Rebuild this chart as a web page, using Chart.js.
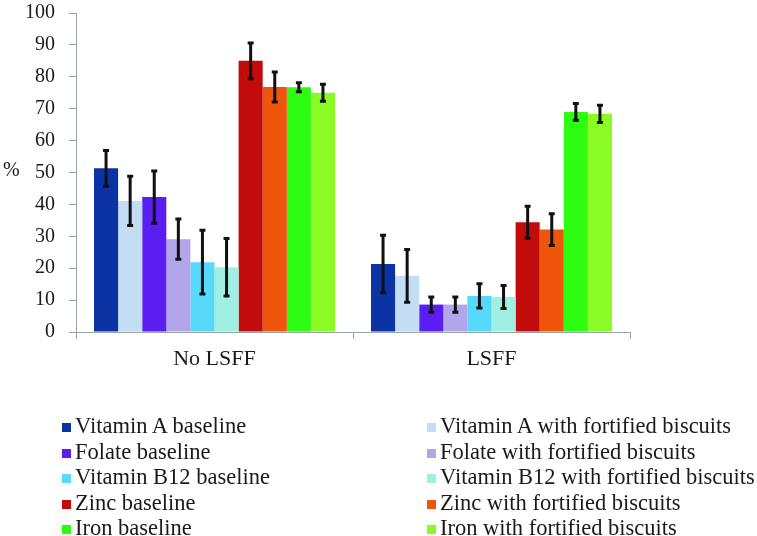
<!DOCTYPE html>
<html>
<head>
<meta charset="utf-8">
<script src="https://cdn.jsdelivr.net/npm/chart.js@4/dist/chart.umd.min.js"></script>
<style>
  html, body { margin: 0; padding: 0; background: #ffffff; }
  #wrap { position: relative; width: 757px; height: 536px; overflow: hidden; font-family: "Liberation Serif", "Times New Roman", serif; color: #1a1a1a; }
  #chart { position: absolute; left: 0; top: 0; }
  #ylab { position: absolute; left: 3px; top: 157px; font-size: 20px; line-height: 24px; }
  .lg { position: absolute; font-size: 22.5px; line-height: 25px; white-space: nowrap; }
  .lg .sw { display: inline-block; width: 9px; height: 9px; margin-right: 4px; vertical-align: 1px; }
</style>
</head>
<body>
<div id="wrap">
  <canvas id="chart" width="757" height="536"></canvas>
  <div id="ylab">%</div>
  <div id="legend"></div>
</div>
<script>
// ---- data ----
const categories = ['No LSFF', 'LSFF'];
const seriesNames = [
  'Vitamin A baseline', 'Vitamin A with fortified biscuits',
  'Folate baseline', 'Folate with fortified biscuits',
  'Vitamin B12 baseline', 'Vitamin B12 with fortified biscuits',
  'Zinc baseline', 'Zinc with fortified biscuits',
  'Iron baseline', 'Iron with fortified biscuits'
];
const vitaminABaseline   = [51.3, 21.3];
const vitaminAFortified  = [41.1, 17.6];
const folateBaseline     = [42.3, 8.6];
const folateFortified    = [29.1, 8.6];
const vitaminB12Baseline = [21.9, 11.3];
const vitaminB12Fortified= [20.3, 11.0];
const zincBaseline       = [85.0, 34.4];
const zincFortified      = [76.8, 32.1];
const ironBaseline       = [76.7, 69.0];
const ironFortified      = [75.0, 68.4];

const vitaminABaselineErr   = [5.6, 9.0];
const vitaminAFortifiedErr  = [7.7, 8.3];
const folateBaselineErr     = [8.2, 2.4];
const folateFortifiedErr    = [6.3, 2.4];
const vitaminB12BaselineErr = [10.0, 3.8];
const vitaminB12FortifiedErr= [9.0, 3.6];
const zincBaselineErr       = [5.6, 5.0];
const zincFortifiedErr      = [4.7, 5.0];
const ironBaselineErr       = [1.4, 2.6];
const ironFortifiedErr      = [2.7, 2.7];

const yTicks = [0, 10, 20, 30, 40, 50, 60, 70, 80, 90, 100];

const seriesValues = [vitaminABaseline, vitaminAFortified, folateBaseline, folateFortified,
  vitaminB12Baseline, vitaminB12Fortified, zincBaseline, zincFortified, ironBaseline, ironFortified];
const seriesErrors = [vitaminABaselineErr, vitaminAFortifiedErr, folateBaselineErr, folateFortifiedErr,
  vitaminB12BaselineErr, vitaminB12FortifiedErr, zincBaselineErr, zincFortifiedErr, ironBaselineErr, ironFortifiedErr];
const seriesColors = ['#0b33a3', '#c3ddf5', '#5b1ef2', '#b2a5ec', '#57d9fc',
  '#a0efe3', '#c20b0b', '#ef560b', '#2dfd12', '#8bfb25'];

// ---- chart ----
const AXIS = '#9aa5a5';
const FONT = '"Liberation Serif", "Times New Roman", serif';

const errorBars = {
  id: 'errorBars',
  afterDatasetsDraw(chart) {
    const ctx = chart.ctx;
    const ys = chart.scales.y;
    ctx.save();
    ctx.strokeStyle = '#111111';
    ctx.lineWidth = 3;
    chart.data.datasets.forEach((ds, i) => {
      const meta = chart.getDatasetMeta(i);
      meta.data.forEach((bar, j) => {
        const v = ds.data[j], e = seriesErrors[i][j];
        const yt = ys.getPixelForValue(v + e);
        const yb = ys.getPixelForValue(v - e);
        const x = bar.x;
        ctx.beginPath();
        ctx.moveTo(x, yt); ctx.lineTo(x, yb);
        ctx.moveTo(x - 3, yt); ctx.lineTo(x + 3, yt);
        ctx.moveTo(x - 3, yb); ctx.lineTo(x + 3, yb);
        ctx.stroke();
      });
    });
    ctx.restore();
  }
};

new Chart(document.getElementById('chart'), {
  type: 'bar',
  data: {
    labels: categories,
    datasets: seriesNames.map((n, i) => ({
      label: n,
      data: seriesValues[i],
      backgroundColor: seriesColors[i],
      borderWidth: 0,
      categoryPercentage: 0.87,
      barPercentage: 1.0
    }))
  },
  options: {
    responsive: false,
    animation: false,
    layout: { padding: { left: 0, right: 127, top: 13, bottom: 164 } },
    plugins: { legend: { display: false }, tooltip: { enabled: false } },
    scales: {
      x: {
        grid: { display: true, drawOnChartArea: false, drawTicks: true, tickLength: 7, color: AXIS, offset: true },
        border: { display: true, color: AXIS, width: 1 },
        ticks: { color: '#1a1a1a', font: { family: FONT, size: 22 }, padding: 7, maxRotation: 0 },
        afterFit(s) { s.height = 40; s.paddingLeft = 0; s.paddingRight = 0; }
      },
      y: {
        min: 0, max: 100,
        afterBuildTicks(s) { s.ticks = yTicks.map(v => ({ value: v })); },
        grid: { display: true, drawOnChartArea: false, drawTicks: true, tickLength: 7, color: AXIS },
        border: { display: true, color: AXIS, width: 1 },
        ticks: { color: '#1a1a1a', font: { family: FONT, size: 20 }, padding: 14 },
        afterFit(s) { s.width = 76; s.paddingTop = 0; s.paddingBottom = 0; }
      }
    }
  },
  plugins: [errorBars]
});

// ---- legend (two columns) ----
const legend = document.getElementById('legend');
seriesNames.forEach((n, i) => {
  const col = i % 2, row = Math.floor(i / 2);
  const d = document.createElement('div');
  d.className = 'lg';
  d.style.left = (col === 0 ? 62 : 427) + 'px';
  d.style.top = (413 + row * 25.6) + 'px';
  const sw = document.createElement('span');
  sw.className = 'sw';
  sw.style.background = seriesColors[i];
  d.appendChild(sw);
  d.appendChild(document.createTextNode(n));
  legend.appendChild(d);
});
</script>
</body>
</html>
